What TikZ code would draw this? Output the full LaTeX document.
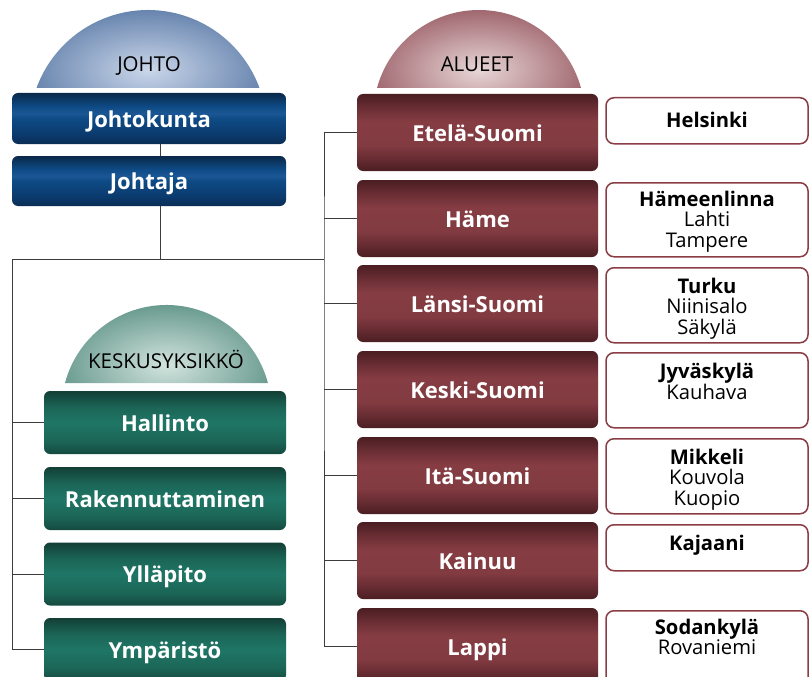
\documentclass[tikz,border=0pt]{standalone}
\usepackage{fontspec}
\setmainfont{Open Sans}
\definecolor{lineC}{HTML}{3C3C3C}
\definecolor{cityC}{HTML}{8A3D45}
% red box colours
\definecolor{rA}{HTML}{4A1E22}\definecolor{rB}{HTML}{6A2E34}\definecolor{rC}{HTML}{823B41}\definecolor{rD}{HTML}{853D43}
% blue box colours
\definecolor{bA}{HTML}{0A2848}\definecolor{bB}{HTML}{0B3B6E}\definecolor{bC}{HTML}{0E4A85}\definecolor{bD}{HTML}{1A5794}\definecolor{bE}{HTML}{0B2D55}
% green box colours
\definecolor{gA}{HTML}{133F36}\definecolor{gB}{HTML}{1B6556}\definecolor{gC}{HTML}{1F7666}\definecolor{gD}{HTML}{154A3F}
% dome colours
\definecolor{dbIn}{HTML}{CAD6EA}\definecolor{dbOut}{HTML}{6482AC}
\definecolor{drIn}{HTML}{E8D6D6}\definecolor{drOut}{HTML}{9E646C}
\definecolor{dgIn}{HTML}{D2E4DE}\definecolor{dgOut}{HTML}{66988C}
\pgfdeclareverticalshading{redshade}{100bp}{color(0bp)=(rA); color(25bp)=(rA); color(34bp)=(rB); color(42bp)=(rC); color(57bp)=(rD); color(66bp)=(rB); color(75bp)=(rA); color(100bp)=(rA)}
\pgfdeclareverticalshading{blueshade}{100bp}{color(0bp)=(bE); color(25bp)=(bE); color(35bp)=(bB); color(50bp)=(bC); color(55bp)=(bD); color(62bp)=(bC); color(75bp)=(bA); color(100bp)=(bA)}
\pgfdeclareverticalshading{greenshade}{100bp}{color(0bp)=(gD); color(25bp)=(gD); color(35bp)=(gB); color(50bp)=(gC); color(62bp)=(gB); color(75bp)=(gA); color(100bp)=(gA)}
\tikzset{
  mainbox/.style={shade, rounded corners=6pt, text=white, inner sep=0pt,
    text height=17pt, text depth=0pt,
    font=\bfseries\fontsize{22}{26}\selectfont},
  bluebox/.style={mainbox, shading=blueshade, minimum width=274pt},
  greenbox/.style={mainbox, shading=greenshade, minimum width=242pt, minimum height=63pt},
  redbox/.style={mainbox, shading=redshade, minimum width=241pt, minimum height=77pt},
  citybox/.style={draw=cityC, fill=white, line width=1.5pt, rounded corners=8pt,
    minimum width=202pt, anchor=north, inner sep=0pt},
  citytext/.style={anchor=north, inner sep=0pt, align=center, text=black,
    font=\fontsize{20.2}{20.6}\selectfont},
  domelabel/.style={text=black, inner sep=0pt, text height=14pt, text depth=0pt,
    font=\fontsize{20.5}{22}\selectfont},
  conn/.style={draw=lineC, line width=1pt},
}
\newcommand{\fl}{\rule{0pt}{18pt}}
\begin{document}
\begin{tikzpicture}[x=1pt,y=-1pt]
\useasboundingbox (0,0) rectangle (809,677);
\fill[white] (0,0) rectangle (809,677);

% domes
\begin{scope}
  \clip (36.5,88) arc[start angle=159.94, end angle=20.06, radius=118.7pt] -- cycle;
  \shade[inner color=dbIn, outer color=dbOut] (148,70) ellipse[x radius=122pt, y radius=62pt];
\end{scope}
\begin{scope}
  \clip (377,88) arc[start angle=164.8, end angle=15.2, radius=105.7pt] -- cycle;
  \shade[inner color=drIn, outer color=drOut] (479,70) ellipse[x radius=112pt, y radius=62pt];
\end{scope}
\begin{scope}
  \clip (65,383) arc[start angle=165.1, end angle=14.9, radius=105pt] -- cycle;
  \shade[inner color=dgIn, outer color=dgOut] (166.5,365) ellipse[x radius=112pt, y radius=62pt];
\end{scope}
\node[domelabel] (lj) at (149,65) {JOHTO};
\node[domelabel] (la) at (477,65) {ALUEET};
\node[domelabel] (lk) at (166,361) {KESKUSYKSIKKÖ};

% johto
\node[bluebox, minimum height=51pt] (jk) at (149,118.5) {Johtokunta};
\node[bluebox, minimum height=50pt] (ja) at (149,181) {Johtaja};

% keskusyksikkö
\node[greenbox] (hal) at (165,422.5) {Hallinto};
\node[greenbox] (rak) at (165,498.5) {Rakennuttaminen};
\node[greenbox] (yll) at (165,574) {Ylläpito};
\node[greenbox] (ymp) at (165,649.5) {Ympäristö};

% alueet
\node[redbox] (ete) at (477.5,132.5) {Etelä-Suomi};
\node[redbox] (ham) at (477.5,218.5) {Häme};
\node[redbox] (lan) at (477.5,303.5) {Länsi-Suomi};
\node[redbox] (kes) at (477.5,389.5) {Keski-Suomi};
\node[redbox] (ita) at (477.5,475.5) {Itä-Suomi};
\node[redbox] (kai) at (477.5,560.5) {Kainuu};
\node[redbox] (lap) at (477.5,646.5) {Lappi};

% city boxes
\node[citybox, minimum height=46pt] (cete) at (707,97) {};
\node[citybox, minimum height=74pt] (cham) at (707,182) {};
\node[citybox, minimum height=75pt] (clan) at (707,267) {};
\node[citybox, minimum height=75pt] (ckes) at (707,352) {};
\node[citybox, minimum height=75pt] (cita) at (707,438) {};
\node[citybox, minimum height=46pt] (ckai) at (707,524) {};
\node[citybox, minimum height=75pt] (clap) at (707,610) {};

\node[citytext, yshift=-12pt] (tete) at (cete.north) {\fl\textbf{Helsinki}};
\node[citytext, yshift=-6pt] (tham) at (cham.north) {\fl\textbf{Hämeenlinna}\\Lahti\\Tampere};
\node[citytext, yshift=-8pt] (tlan) at (clan.north) {\fl\textbf{Turku}\\Niinisalo\\Säkylä};
\node[citytext, yshift=-8.5pt] (tkes) at (ckes.north) {\fl\textbf{Jyväskylä}\\Kauhava};
\node[citytext, yshift=-8pt] (tita) at (cita.north) {\fl\textbf{Mikkeli}\\Kouvola\\Kuopio};
\node[citytext, yshift=-8.5pt] (tkai) at (ckai.north) {\fl\textbf{Kajaani}};
\node[citytext, yshift=-6pt] (tlap) at (clap.north) {\fl\textbf{Sodankylä}\\Rovaniemi};

% connectors
\coordinate (hub) at (160,259);
\coordinate (L) at (12,259);
\coordinate (R) at (324,259);
\draw[conn] (jk.south -| hub) -- (ja.north -| hub);
\draw[conn] (ja.south -| hub) -- (hub);
\draw[conn] (L) -- (R);
\draw[conn] (L) |- (ymp.west);
\foreach \n in {hal,rak,yll} \draw[conn] (L |- \n.west) -- (\n.west);
\draw[conn] (ete.west) -| (R) |- (lap.west);
\foreach \n in {ham,lan,kes,ita,kai} \draw[conn] (R |- \n.west) -- (\n.west);
\end{tikzpicture}
\end{document}
